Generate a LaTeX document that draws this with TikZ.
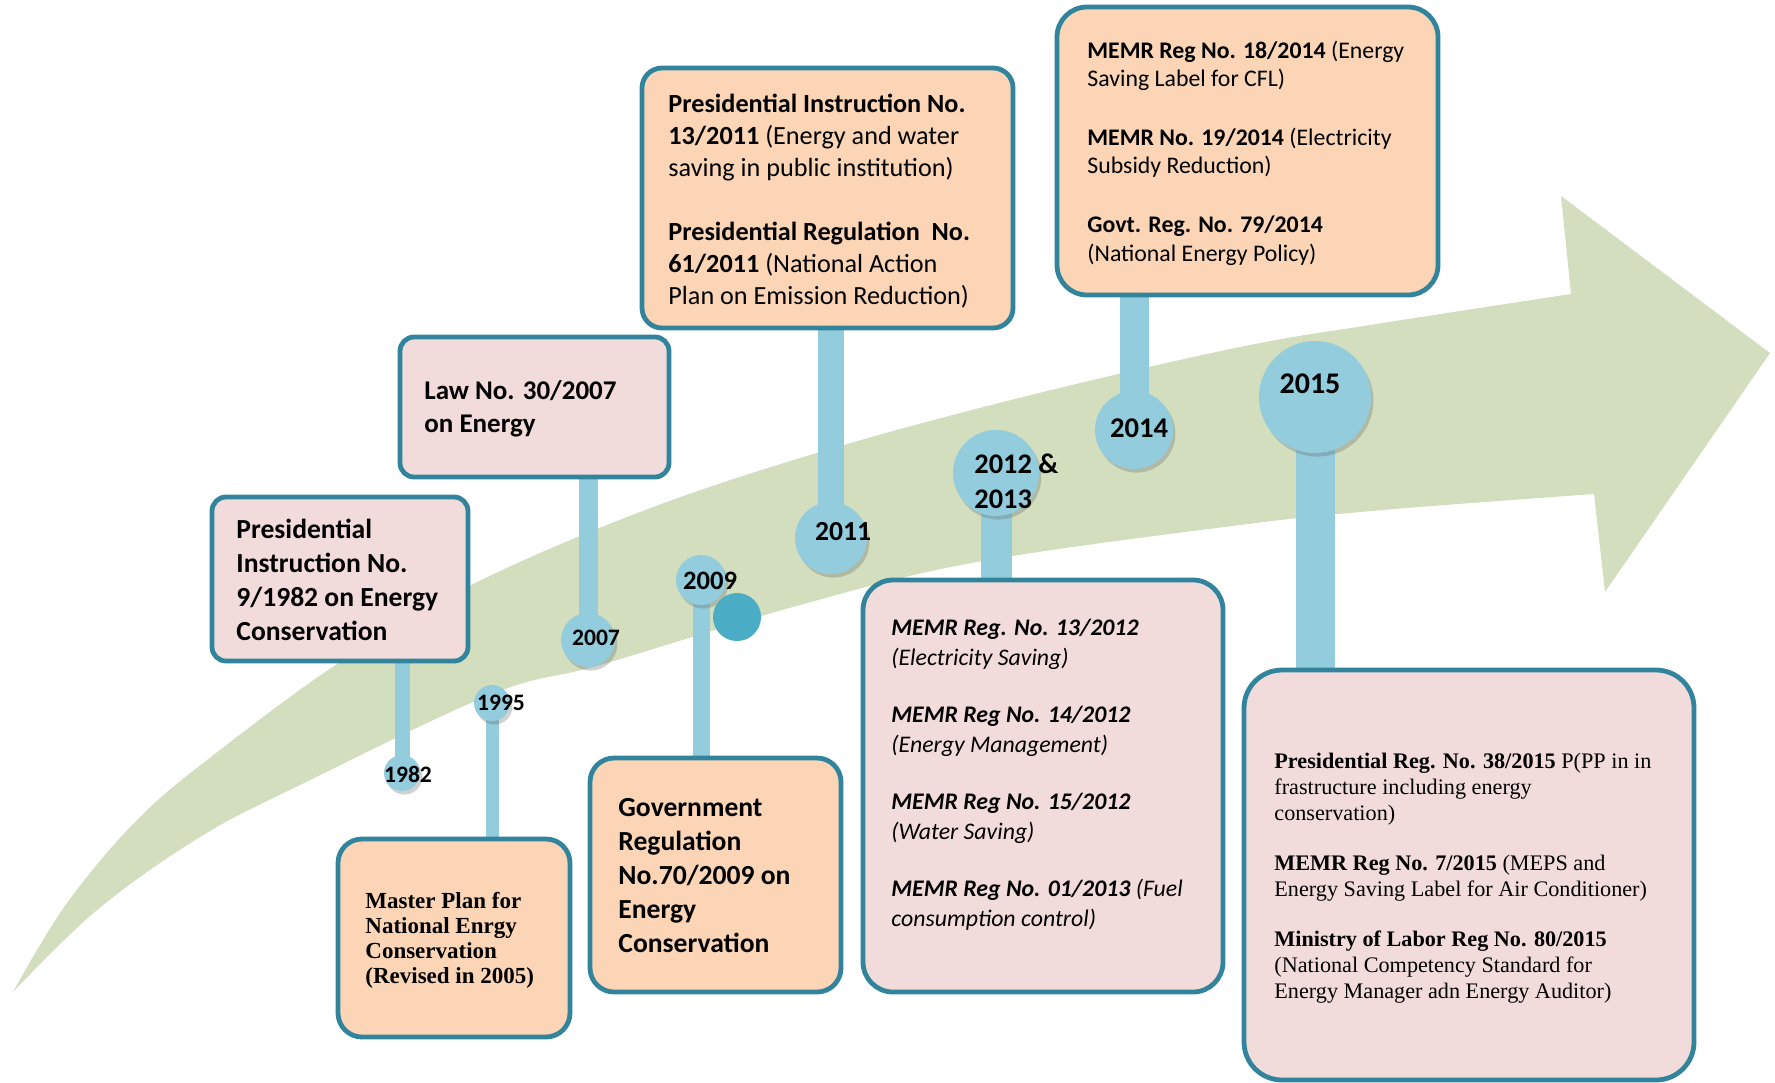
\documentclass[tikz,border=0pt]{standalone}
\usepackage{fontspec}
\setmainfont{Carlito}
\newfontfamily\serifx{Liberation Serif}
\usetikzlibrary{fit,shadows,backgrounds}
\definecolor{bord}{HTML}{31849B}
\definecolor{pinkf}{HTML}{F2DCDB}
\definecolor{peachf}{HTML}{FBD5B5}
\definecolor{stemc}{HTML}{93CDDD}
\definecolor{darkc}{HTML}{4BACC6}
\definecolor{arrowg}{HTML}{D2DEBE}
\begin{document}
\begin{tikzpicture}[x=0.5pt,y=-0.5pt,
  pinkbox/.style={draw=bord, line width=2.4pt, fill=pinkf, inner sep=0pt},
  peachbox/.style={draw=bord, line width=2.4pt, fill=peachf, inner sep=0pt},
  yearc/.style={circle, fill=stemc, inner sep=0pt,
     drop shadow={shadow xshift=1.2pt, shadow yshift=-1.8pt, opacity=0.3, fill=black!60}},
  stemline/.style={draw=stemc, preaction={draw=black, opacity=0.15, transform canvas={xshift=1.2pt}}},
  yeartxt/.style={font=\bfseries, inner sep=0pt},
  btxt/.style={align=left, inner sep=0pt, anchor=west}]
\useasboundingbox (0,0) rectangle (1775,1082);

% boxes (as fitted nodes)
\node[pinkbox, rounded corners=7pt, fit={(212,497) (468,661)}] (b1982) {};
\node[pinkbox, rounded corners=7pt, fit={(400,337) (669,477)}] (blaw) {};
\node[peachbox, rounded corners=10pt, fit={(642,68) (1013,328)}] (b2011) {};
\node[peachbox, rounded corners=15pt, fit={(1057,7) (1438,295)}] (b2014) {};
\node[peachbox, rounded corners=12pt, fit={(338,839) (570,1037)}] (bmaster) {};
\node[peachbox, rounded corners=12pt, fit={(590,758) (841,992)}] (bgov) {};
\node[pinkbox, rounded corners=15pt, fit={(863,580) (1223,992)}] (b2012) {};
\node[pinkbox, rounded corners=19pt, fit={(1244,670) (1694,1080)}] (b2015) {};

% year circles
\node[yearc, minimum size=18pt] (c1982) at (402,773) {};
\node[yearc, minimum size=18pt] (c1995) at (492,703) {};
\node[yearc, minimum size=27pt] (c2007) at (588,640) {};
\node[yearc, minimum size=25pt] (c2009) at (701,580) {};
\node[yearc, minimum size=36pt] (c2011) at (831,538) {};
\node[yearc, minimum size=43pt] (c2012) at (996,473) {};
\node[yearc, minimum size=39pt] (c2014) at (1134,430) {};
\node[yearc, minimum size=56pt] (c2015) at (1315,397) {};
\node[circle, fill=darkc, inner sep=0pt, minimum size=24pt] (cdark) at (737,617) {};

\begin{scope}[on background layer]
% green arrow
\fill[arrowg] plot[smooth, tension=0.6] coordinates {(13,992) (67,903) (140,817) (220,750) (340,662) (467,587) (640,512) (820,452) (1023,397) (1240,347) (1383,323) (1571,294)}
  -- (1561,196) -- (1770,353) -- (1605,592) -- (1594,494)
  -- plot[smooth, tension=0.6] coordinates {(1594,494) (1383,510) (1240,525) (977,562) (800,605) (600,665) (492,694) (300,785) (200,837) (97,910) (13,992)} -- cycle;
% stems
\draw[stemline, line width=7.5pt] (c1982.center) -- (c1982.center |- b1982.south);
\draw[stemline, line width=6.5pt] (c1995.center) -- (c1995.center |- bmaster.north);
\draw[stemline, line width=9.5pt] (c2007.center) -- (c2007.center |- blaw.south);
\draw[stemline, line width=8.5pt] (c2009.center) -- (c2009.center |- bgov.north);
\draw[stemline, line width=13pt] (c2011.center) -- (c2011.center |- b2011.south);
\draw[stemline, line width=15.5pt] (c2012.center) -- (c2012.center |- b2012.north);
\draw[stemline, line width=14.5pt] (c2014.center) -- (c2014.center |- b2014.south);
\draw[stemline, line width=19.5pt] (c2015.center) -- (c2015.center |- b2015.north);
\end{scope}

% year labels
\node[yeartxt, font=\fontsize{11.8pt}{14pt}\selectfont\bfseries] (y1982) at (408,774) {1982};
\node[yeartxt, font=\fontsize{11.8pt}{14pt}\selectfont\bfseries] (y1995) at (501,703) {1995};
\node[yeartxt, font=\fontsize{11.8pt}{14pt}\selectfont\bfseries] (y2007) at (596,638) {2007};
\node[yeartxt, font=\fontsize{13.3pt}{16pt}\selectfont\bfseries] (y2009) at (710,581) {2009};
\node[yeartxt, font=\fontsize{13.8pt}{16pt}\selectfont\bfseries] (y2011) at (843,532) {2011};
\node[yeartxt, font=\fontsize{14.2pt}{17.5pt}\selectfont\bfseries, align=left, anchor=west] (y2012) at (974,481) {2012 \&\\2013};
\node[yeartxt, font=\fontsize{14.3pt}{17pt}\selectfont\bfseries] (y2014) at (1139,428) {2014};
\node[yeartxt, font=\fontsize{15pt}{18pt}\selectfont\bfseries] (y2015) at (1310,384) {2015};

% box texts
\node[btxt, font=\fontsize{13.8pt}{17pt}\selectfont\bfseries] (t1982) at (236,580)
  {Presidential\\Instruction No.\\9/1982 on Energy\\Conservation};
\node[btxt, font=\fontsize{13.5pt}{16.5pt}\selectfont\bfseries] (tlaw) at (424,409)
  {Law No. 30/2007\\on Energy};
\node[btxt, font=\fontsize{13.1pt}{16pt}\selectfont] (t2011) at (668,201)
  {\textbf{Presidential Instruction No.}\\\textbf{13/2011} (Energy and water\\saving in public institution)\\[15.7pt]
   \textbf{Presidential Regulation\ \ No.}\\\textbf{61/2011} (National Action\\Plan on Emission Reduction)};
\node[btxt, font=\fontsize{11.9pt}{14.2pt}\selectfont] (t2014) at (1087,153)
  {\textbf{MEMR Reg No. 18/2014} (Energy\\Saving Label for CFL)\\[15.3pt]
   \textbf{MEMR No. 19/2014} (Electricity\\Subsidy Reduction)\\[15.3pt]
   \textbf{Govt. Reg. No. 79/2014}\\(National Energy Policy)};
\node[btxt, font=\fontsize{11.5pt}{12.5pt}\selectfont\serifx\bfseries] (tmaster) at (365,940)
  {Master Plan for\\National Enrgy\\Conservation\\(Revised in 2005)};
\node[btxt, font=\fontsize{13.8pt}{17pt}\selectfont\bfseries] (tgov) at (618,876)
  {Government\\Regulation\\No.70/2009 on\\Energy\\Conservation};
\node[btxt, font=\fontsize{11.9pt}{15pt}\selectfont\itshape] (t2012) at (891,775)
  {\textbf{MEMR Reg. No. 13/2012}\\(Electricity Saving)\\[13.5pt]
   \textbf{MEMR Reg No. 14/2012}\\(Energy Management)\\[13.5pt]
   \textbf{MEMR Reg No. 15/2012}\\(Water Saving)\\[13.5pt]
   \textbf{MEMR Reg No. 01/2013} (Fuel\\consumption control)};
\node[btxt, font=\fontsize{11.1pt}{13pt}\selectfont\serifx] (t2015) at (1274,878)
  {\textbf{Presidential Reg. No. 38/2015} P(PP in in\\frastructure including energy\\conservation)\\[12pt]
   \textbf{MEMR Reg No. 7/2015} (MEPS and\\Energy Saving Label for Air Conditioner)\\[12pt]
   \textbf{Ministry of Labor Reg No. 80/2015}\\(National Competency Standard for\\Energy Manager adn Energy Auditor)};
\end{tikzpicture}
\end{document}
